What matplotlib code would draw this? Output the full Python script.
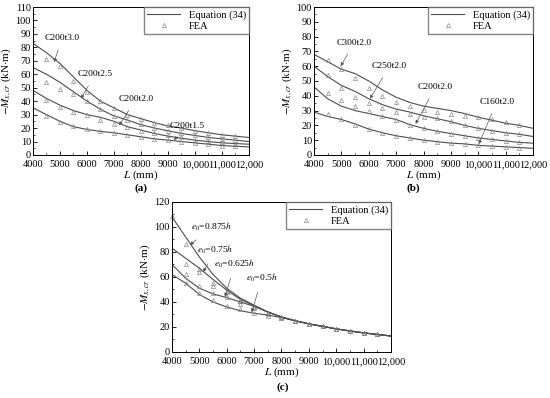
import numpy as np
import matplotlib.pyplot as plt
from matplotlib.ticker import MultipleLocator, FuncFormatter

plt.rcParams['font.family'] = ['Liberation Serif', 'DejaVu Serif']
plt.rcParams['mathtext.fontset'] = 'stix'

# ---------------- data ----------------
L_eq = [4000, 4500, 5000, 5500, 6000, 6500, 7000, 7500, 8000, 8500,
        9000, 9500, 10000, 10500, 11000, 11500, 12000]
L_fea = L_eq[1:-1]

# panel (a): C200 with different thickness
a_names = ['C200t3.0', 'C200t2.5', 'C200t2.0', 'C200t1.5']
a_eq_t30 = [83, 76, 68, 58, 48, 40, 35, 30, 27, 24, 21.5, 20, 18, 16.5, 15, 14, 13]
a_eq_t25 = [65, 60, 54, 47, 40, 34, 29, 26, 22.5, 20, 18, 16, 14.5, 13, 12, 11, 10]
a_eq_t20 = [48, 42, 37, 33, 30, 28, 25, 21, 18.5, 16, 14, 12.5, 11, 10, 9, 8.5, 8]
a_eq_t15 = [35, 30, 25, 21, 19, 17.5, 16.5, 15, 13.5, 12, 11, 10, 9, 8, 7, 6.5, 6]
a_fea_t30 = [71, 66, 55, 47, 40, 35, 30, 27, 24, 22, 20, 18, 16.5, 15, 14]
a_fea_t25 = [54, 49, 45, 40, 34, 29, 26, 23, 20, 18, 16.5, 15, 13.5, 12, 11]
a_fea_t20 = [41, 36, 32, 30, 26, 23, 20.5, 18, 16, 14.5, 13, 11.5, 10.5, 9.5, 8.5]
a_fea_t15 = [29, 24.5, 21.5, 19, 17.5, 16.5, 15, 13.5, 12, 11, 10, 9, 8, 7, 6.5]

# panel (b): different section depth, t = 2.0
b_names = ['C300t2.0', 'C250t2.0', 'C200t2.0', 'C160t2.0']
b_eq_300 = [68, 63, 58, 55, 50, 44, 39, 35.5, 33, 31.5, 30, 28, 25.5, 23.5, 21.5, 20, 18]
b_eq_250 = [60, 53, 47, 43, 38, 34, 31, 29, 26.5, 24.5, 22.5, 20, 18, 16.5, 15, 14, 12.5]
b_eq_200 = [46, 38, 33, 30, 28, 26, 24, 20.5, 18, 16, 14.5, 13, 11.5, 10.5, 9.5, 8.5, 8]
b_eq_160 = [29, 26, 24, 21, 17.5, 15, 13, 11.5, 10, 9, 8, 7.5, 6.5, 6, 5.5, 5, 4.5]
b_fea_300 = [64, 58, 52, 45, 40, 36, 33, 30.5, 29, 27.5, 26.5, 25.5, 24, 22, 20.5]
b_fea_250 = [54, 45, 39, 35, 31.5, 29, 27.5, 26, 25, 23, 20.5, 18.5, 16.5, 15, 14]
b_fea_200 = [42, 37, 33, 30, 26.5, 23.5, 20.5, 18, 16, 14.5, 13, 11.5, 10.5, 9.5, 8.5]
b_fea_160 = [28, 24, 20, 17.5, 15, 13, 11.5, 10, 9, 8, 7.5, 7, 6, 5.5, 5]

# panel (c): different load eccentricity
c_names = ['0.875', '0.75', '0.625', '0.5']
c_eq_0875 = [108, 92, 76, 62, 51, 43, 37.5, 32, 28, 25, 22.5, 20.5, 18.5, 16.8, 15.3, 14, 12.8]
c_eq_075 = [83, 75, 67, 58, 49.5, 42, 37, 32, 28, 25, 22.5, 20.5, 18.5, 16.8, 15.3, 14, 12.8]
c_eq_0625 = [70, 59, 51, 46.5, 43.5, 40, 36.5, 32, 28, 25, 22.5, 20.5, 18.5, 16.8, 15.3, 14, 12.8]
c_eq_05 = [62, 55, 46, 40, 36, 33, 31, 29.5, 27.5, 25, 22.5, 20.5, 18.5, 16.8, 15.3, 14, 12.8]
c_fea_0875 = [86, 66, 53, 49, 41, 36, 31, 28, 25, 22.5, 20.5, 18.5, 16.5, 15, 14]
c_fea_075 = [70, 64, 55, 48, 41, 36, 31, 28, 25, 22.5, 20.5, 18.5, 16.5, 15, 14]
c_fea_0625 = [62, 53, 47.5, 44, 38, 35, 30, 27.5, 25, 22.5, 20.5, 18.5, 16.5, 15, 14]
c_fea_05 = [55.5, 47, 41.6, 37, 34.5, 31, 29, 27, 25, 22.5, 20.5, 18.5, 16.5, 15, 14]
c_fea_start = 109  # FEA point at L = 4000 for e0 = 0.875h

# ---------------- figure ----------------
fig = plt.figure(figsize=(5.5, 3.98), dpi=100)
ax_a = fig.add_axes([0.06, 0.6106, 0.3927, 0.3718])
ax_b = fig.add_axes([0.5709, 0.6106, 0.3982, 0.3718])
ax_c = fig.add_axes([0.3127, 0.1156, 0.3982, 0.3769])

line_col = '#4d4d4d'
tri_col = '#8a8a8a'


def fmt_x(v, pos):
    v = int(round(v))
    return f'{v:,}' if v >= 10000 else str(v)


def style(ax, ymax, ystep, yminor):
    ax.set_xlim(4000, 12000)
    ax.set_ylim(0, ymax)
    ax.xaxis.set_major_locator(MultipleLocator(1000))
    ax.xaxis.set_minor_locator(MultipleLocator(500))
    ax.yaxis.set_major_locator(MultipleLocator(ystep))
    ax.yaxis.set_minor_locator(MultipleLocator(yminor))
    ax.xaxis.set_major_formatter(FuncFormatter(fmt_x))
    ax.tick_params(which='both', direction='in', labelsize=7.5, pad=1.5)
    ax.tick_params(axis='x', pad=3.5)
    ax.tick_params(which='major', length=3, width=0.6)
    ax.tick_params(which='minor', length=1.5, width=0.5)
    for s in ax.spines.values():
        s.set_linewidth(0.7)
    ax.set_xlabel(r'$L$ (mm)', fontsize=8, labelpad=0)
    ax.set_ylabel(r'$-M_{x,cr}$ (kN$\cdot$m)', fontsize=8, labelpad=1)


def draw(ax, eqs, feas):
    for k, (e, f) in enumerate(zip(eqs, feas)):
        ax.plot(L_eq, e, color=line_col, lw=0.8,
                label='Equation (34)' if k == 0 else None)
        ax.plot(L_fea, f, ls='none', marker='^', ms=3, mfc='none',
                mec=tri_col, mew=0.5, label='FEA' if k == 0 else None)
    ax.legend(loc='upper right', fontsize=7.5, frameon=True, fancybox=False,
              edgecolor='#666666', borderpad=0.3, handlelength=3.2,
              labelspacing=0.2, borderaxespad=0)


def note(ax, txt, xy, xytext):
    ax.annotate(txt, xy=xy, xytext=xytext, fontsize=6.8, ha='center', va='center',
                arrowprops=dict(arrowstyle='-|>', color='#555555', lw=0.5,
                                mutation_scale=5, shrinkA=4, shrinkB=0))


# (a)
draw(ax_a, [a_eq_t30, a_eq_t25, a_eq_t20, a_eq_t15],
     [a_fea_t30, a_fea_t25, a_fea_t20, a_fea_t15])
style(ax_a, 110, 10, 5)
note(ax_a, a_names[0], (4780, 69), (5075, 87))
note(ax_a, a_names[1], (5780, 42), (6300, 60))
note(ax_a, a_names[2], (7190, 22), (7815, 41.6))
note(ax_a, a_names[3], (9220, 11), (9700, 21.7))

# (b)
draw(ax_b, [b_eq_300, b_eq_250, b_eq_200, b_eq_160],
     [b_fea_300, b_fea_250, b_fea_200, b_fea_160])
style(ax_b, 100, 10, 5)
note(ax_b, b_names[0], (4975, 60), (5478, 76))
note(ax_b, b_names[1], (6045, 38), (6755, 60))
note(ax_b, b_names[2], (7710, 21), (8434, 46))
note(ax_b, b_names[3], (10020, 7.4), (10680, 36))

# (c)
draw(ax_c, [c_eq_0875, c_eq_075, c_eq_0625, c_eq_05],
     [c_fea_0875, c_fea_075, c_fea_0625, c_fea_05])
ax_c.plot([L_eq[0]], [c_fea_start], ls='none', marker='^', ms=3, mfc='none',
          mec=tri_col, mew=0.5, clip_on=False)
style(ax_c, 120, 20, 10)
note(ax_c, r'$e_0$=' + c_names[0] + r'$h$', (4657, 85.6), (5449, 99.7))
note(ax_c, r'$e_0$=' + c_names[1] + r'$h$', (5142, 64), (5595, 81.6))
note(ax_c, r'$e_0$=' + c_names[2] + r'$h$', (5934, 44), (6300, 70.4))
note(ax_c, r'$e_0$=' + c_names[3] + r'$h$', (6909, 31.7), (7285, 59))

fig.text(141 / 550, 1 - 188 / 398, '(a)', fontsize=8, fontweight='bold', ha='center', va='center')
fig.text(413 / 550, 1 - 188 / 398, '(b)', fontsize=8, fontweight='bold', ha='center', va='center')
fig.text(283 / 550, 1 - 387 / 398, '(c)', fontsize=8, fontweight='bold', ha='center', va='center')

fig.savefig('out.png', dpi=100)
